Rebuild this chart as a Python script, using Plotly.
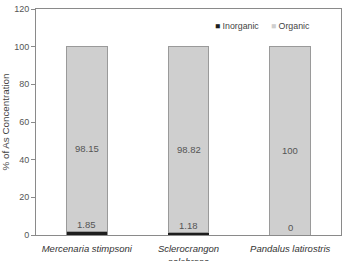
import plotly.graph_objects as go

categories = ["<i>Mercenaria stimpsoni</i>", "<i>Sclerocrangon<br>salebrosa</i>", "<i>Pandalus latirostris</i>"]
inorganic = [1.85, 1.18, 0]
organic = [98.15, 98.82, 100]
inorganic_labels = ["1.85", "1.18", "0"]
organic_labels = ["98.15", "98.82", "100"]
y_ticks = [0, 20, 40, 60, 80, 100, 120]

FONT = "Liberation Sans, Arial, sans-serif"
x = list(range(len(categories)))

fig = go.Figure()
fig.add_trace(go.Bar(x=x, y=inorganic, name="Inorganic", marker=dict(color="#1e1e1e", line=dict(color="#1e1e1e", width=0.5)), width=0.4, showlegend=False))
fig.add_trace(go.Bar(x=x, y=organic, name="Organic", marker=dict(color="#cfcfcf", line=dict(color="#9a9a9a", width=1)), width=0.4, showlegend=False))

anns = []
for i in range(len(categories)):
    anns.append(dict(x=x[i], y=inorganic[i], text=inorganic_labels[i], showarrow=False, yanchor="bottom", xanchor="center",
                     font=dict(size=9.5, color="#555555", family=FONT)))
    anns.append(dict(x=x[i], y=inorganic[i] + organic[i] * 0.45, text=organic_labels[i], showarrow=False, yanchor="middle", xanchor="center",
                     font=dict(size=9.5, color="#555555", family=FONT)))
# legend
anns.append(dict(xref="paper", yref="paper", x=0.58, y=0.925, xanchor="left", yanchor="middle", showarrow=False,
                 text="<span style='color:#1e1e1e;font-size:8.5px'>■</span> Inorganic", font=dict(size=8.8, color="#444444", family=FONT)))
anns.append(dict(xref="paper", yref="paper", x=0.765, y=0.925, xanchor="left", yanchor="middle", showarrow=False,
                 text="<span style='color:#cfcfcf;font-size:8.5px'>■</span> Organic", font=dict(size=8.8, color="#444444", family=FONT)))

fig.update_layout(
    barmode="stack",
    width=345, height=261,
    margin=dict(l=36, r=4, t=9, b=26),
    paper_bgcolor="white", plot_bgcolor="white",
    font=dict(family=FONT, color="#444444"),
    annotations=anns,
    xaxis=dict(tickmode="array", tickvals=x, ticktext=categories, range=[-0.5, 2.5], automargin=False,
               showline=True, linecolor="#8a8a8a", linewidth=1, mirror=True, ticks="", ticklabelstandoff=5,
               tickfont=dict(size=9.5, color="#333333", family=FONT), showgrid=False),
    yaxis=dict(range=[0, 120], tickvals=y_ticks, showline=True, linecolor="#8a8a8a", linewidth=1, mirror=True,
               ticks="outside", ticklen=4, tickcolor="#8a8a8a", showgrid=False, zeroline=False, automargin=False,
               tickfont=dict(size=9, color="#555555", family=FONT),
               title=dict(text="% of As Concentration", font=dict(size=9.8, color="#444444", family=FONT), standoff=3)),
)
fig.write_html("out.html")
